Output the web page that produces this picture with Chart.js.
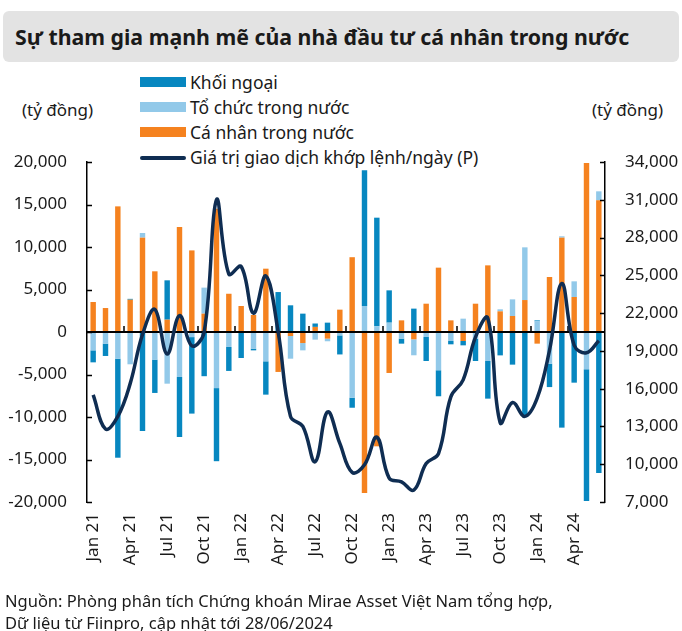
<!DOCTYPE html>
<html>
<head>
<meta charset="utf-8">
<script src="https://cdn.jsdelivr.net/npm/chart.js@4"></script>
<style>
  body { margin: 0; background: #fff; font-family: 'Noto Sans', sans-serif; color: #1a1a1a; }
  #wrap { position: relative; width: 682px; height: 631px; overflow: hidden; }
  #chart { position: absolute; left: 0; top: 0; }
  .title { position: absolute; left: 3px; top: 11px; width: 676px; height: 51px; background: #e3e3e3;
           border-radius: 6px; font-weight: bold; font-size: 21.3px; line-height: 51px; padding-left: 12px; box-sizing: border-box; }
  .unit { position: absolute; top: 98px; font-size: 17px; }
  .leg { position: absolute; left: 140px; font-size: 17.5px; line-height: 20px; }
  .leg span.box { position: absolute; left: 0; width: 46px; height: 10px; }
  .leg span.txt { position: absolute; left: 50px; white-space: nowrap; }
  .note { position: absolute; left: 5px; font-size: 16.5px; white-space: nowrap; }
</style>
</head>
<body>
<div id="wrap">
  <div class="title">Sự tham gia mạnh mẽ của nhà đầu tư cá nhân trong nước</div>
  <div id="legend"></div>
  <div class="unit" style="left:22px">(tỷ đồng)</div>
  <div class="unit" style="left:592px">(tỷ đồng)</div>
  <canvas id="chart" width="682" height="631"></canvas>
  <div class="note" style="top:589px">Nguồn: Phòng phân tích Chứng khoán Mirae Asset Việt Nam tổng hợp,</div>
  <div class="note" style="top:611px">Dữ liệu từ Fiinpro, cập nhật tới 28/06/2024</div>
</div>
<script>
var months = ['Jan 21','Feb 21','Mar 21','Apr 21','May 21','Jun 21','Jul 21','Aug 21','Sep 21','Oct 21','Nov 21','Dec 21',
              'Jan 22','Feb 22','Mar 22','Apr 22','May 22','Jun 22','Jul 22','Aug 22','Sep 22','Oct 22','Nov 22','Dec 22',
              'Jan 23','Feb 23','Mar 23','Apr 23','May 23','Jun 23','Jul 23','Aug 23','Sep 23','Oct 23','Nov 23','Dec 23',
              'Jan 24','Feb 24','Mar 24','Apr 24','May 24','Jun 24'];

// net buy / sell, ty dong
var caNhan = [3530, 2820, 14780, 3800, 11100, 7140, 1450, 12350, 9600, 2160, 14500, 4500,
              3060, 2000, 7450, -4700, -470, -1300, 600, -780, 2630, 8800, -18940, -13450,
              -4820, 1370, -860, 3330, 7570, 1370, -1060, 3330, 7840, 2430, 1880, 3760,
              -1370, 6470, 11100, 4120, 19880, 15490];
var toChuc = [-2160, -1370, -3140, -3800, 550, -3250, -6080, -5290, -600, 3060, -6600, -1760,
              0, -1960, -3450, 0, -2670, -860, -900, -310, -400, -7730, 3060, 670,
              1100, -780, -1880, -590, -4500, -1060, 1570, -780, -3410, 240, 1960, 6200,
              1250, -3730, 160, 1840, -4390, 1060];
var khoiNgoai = [-1410, -1450, -11650, 100, -11650, -3920, 4630, -7060, -9000, -5200, -8600, -2820,
                 -3060, -200, -3920, 4700, 3140, 2160, 400, 1100, -2240, -1180, 15960, 12780,
                 3800, -590, 2750, -2820, -3060, -390, -510, -2630, -4430, -2750, -3840, -10000,
                 120, -2750, -11250, -5960, -15490, -16590];
// gia tri giao dich khop lenh/ngay
var gtgd = [15500, 12800, 13800, 16400, 20300, 22300, 18750, 21800, 19400, 20500, 31000, 25100,
            25700, 22000, 24950, 20500, 13800, 13000, 10200, 14150, 11650, 9350, 9950, 12150,
            8900, 8600, 7950, 10050, 10850, 15350, 16700, 20100, 21600, 13300, 14900, 13800,
            15250, 19050, 24350, 19450, 18850, 19800];

var cDark = '#0787c0', cLight = '#92c9e9', cOrange = '#f5821f', cLine = '#0f2d52';

var legendItems = [
  { text: ' Khối ngoại', color: cDark, top: 72 },
  { text: 'Tổ chức trong nước', color: cLight, top: 97 },
  { text: 'Cá nhân trong nước', color: cOrange, top: 122 },
  { text: 'Giá trị giao dịch khớp lệnh/ngày (P)', color: cLine, top: 147, line: true }
];
var legHtml = '';
legendItems.forEach(function(it) {
  var boxStyle = it.line ? 'top:9px;height:3.5px;border-radius:2px;' : 'top:5px;';
  legHtml += '<div class="leg" style="top:' + it.top + 'px">' +
    '<span class="box" style="' + boxStyle + 'background:' + it.color + '"></span>' +
    '<span class="txt">' + it.text + '</span></div>';
});
document.getElementById('legend').innerHTML = legHtml;

var axisMarks = {
  id: 'axisMarks',
  beforeDatasetDraw: function(chart, args) {
    if (args.index !== 0) return;
    var ctx = chart.ctx, x = chart.scales.x, y = chart.scales.y, y1 = chart.scales.y1;
    var zero = y.getPixelForValue(0);
    ctx.save();
    ctx.strokeStyle = '#000';
    ctx.lineWidth = 2;
    ctx.beginPath();
    ctx.moveTo(chart.chartArea.left, zero);
    ctx.lineTo(chart.chartArea.right, zero);
    ctx.stroke();
    ctx.lineWidth = 1.5;
    ctx.beginPath();
    y.ticks.forEach(function(t) {
      var py = Math.round(y.getPixelForValue(t.value)) + 0.5;
      ctx.moveTo(y.right, py); ctx.lineTo(y.right + 5, py);
    });
    y1.ticks.forEach(function(t) {
      var py = Math.round(y1.getPixelForValue(t.value)) + 0.5;
      ctx.moveTo(y1.left, py); ctx.lineTo(y1.left - 5, py);
    });
    var half = (x.getPixelForValue(1) - x.getPixelForValue(0)) / 2;
    for (var i = 3; i < months.length; i += 3) {
      var px = x.getPixelForValue(i) - half;
      ctx.moveTo(px, zero); ctx.lineTo(px, zero - 6);
    }
    ctx.stroke();
    ctx.restore();
  }
};

Chart.defaults.font.family = "'Noto Sans', sans-serif";
Chart.defaults.font.size = 17;
Chart.defaults.color = '#1a1a1a';

new Chart(document.getElementById('chart'), {
  type: 'bar',
  data: {
    labels: months,
    datasets: [
      { type: 'line', label: 'Giá trị giao dịch khớp lệnh/ngày (P)', data: gtgd, yAxisID: 'y1',
        borderColor: cLine, borderWidth: 3.5, pointRadius: 0, tension: 0.4, fill: false, order: 0 },
      { label: 'Cá nhân trong nước', data: caNhan, backgroundColor: cOrange, order: 1 },
      { label: 'Tổ chức trong nước', data: toChuc, backgroundColor: cLight, order: 1 },
      { label: 'Khối ngoại', data: khoiNgoai, backgroundColor: cDark, order: 1 }
    ]
  },
  options: {
    responsive: false,
    animation: false,
    devicePixelRatio: 1,
    layout: { padding: { top: 162, left: 0, right: 0, bottom: 0 } },
    datasets: { bar: { barPercentage: 0.44, categoryPercentage: 1, borderWidth: 0 } },
    plugins: { legend: { display: false }, tooltip: { enabled: false } },
    scales: {
      x: {
        stacked: true,
        grid: { display: false, drawTicks: false },
        border: { display: false },
        ticks: {
          autoSkip: false, maxRotation: 90, minRotation: 90, padding: 11,
          callback: function(v, i) { return i % 3 === 0 ? months[i] : ''; }
        },
        afterFit: function(s) { s.height = 129; }
      },
      y: {
        stacked: true, min: -20000, max: 20000,
        ticks: { stepSize: 5000, padding: 20 },
        grid: { display: false, drawTicks: false },
        border: { display: true, color: '#000', width: 1.5 },
        afterFit: function(s) { s.width = 87; }
      },
      y1: {
        position: 'right', min: 7000, max: 34000,
        ticks: { stepSize: 3000, padding: 20 },
        grid: { display: false, drawTicks: false },
        border: { display: true, color: '#000', width: 1.5 },
        afterFit: function(s) { s.width = 77; }
      }
    }
  },
  plugins: [axisMarks]
});
</script>
</body>
</html>
